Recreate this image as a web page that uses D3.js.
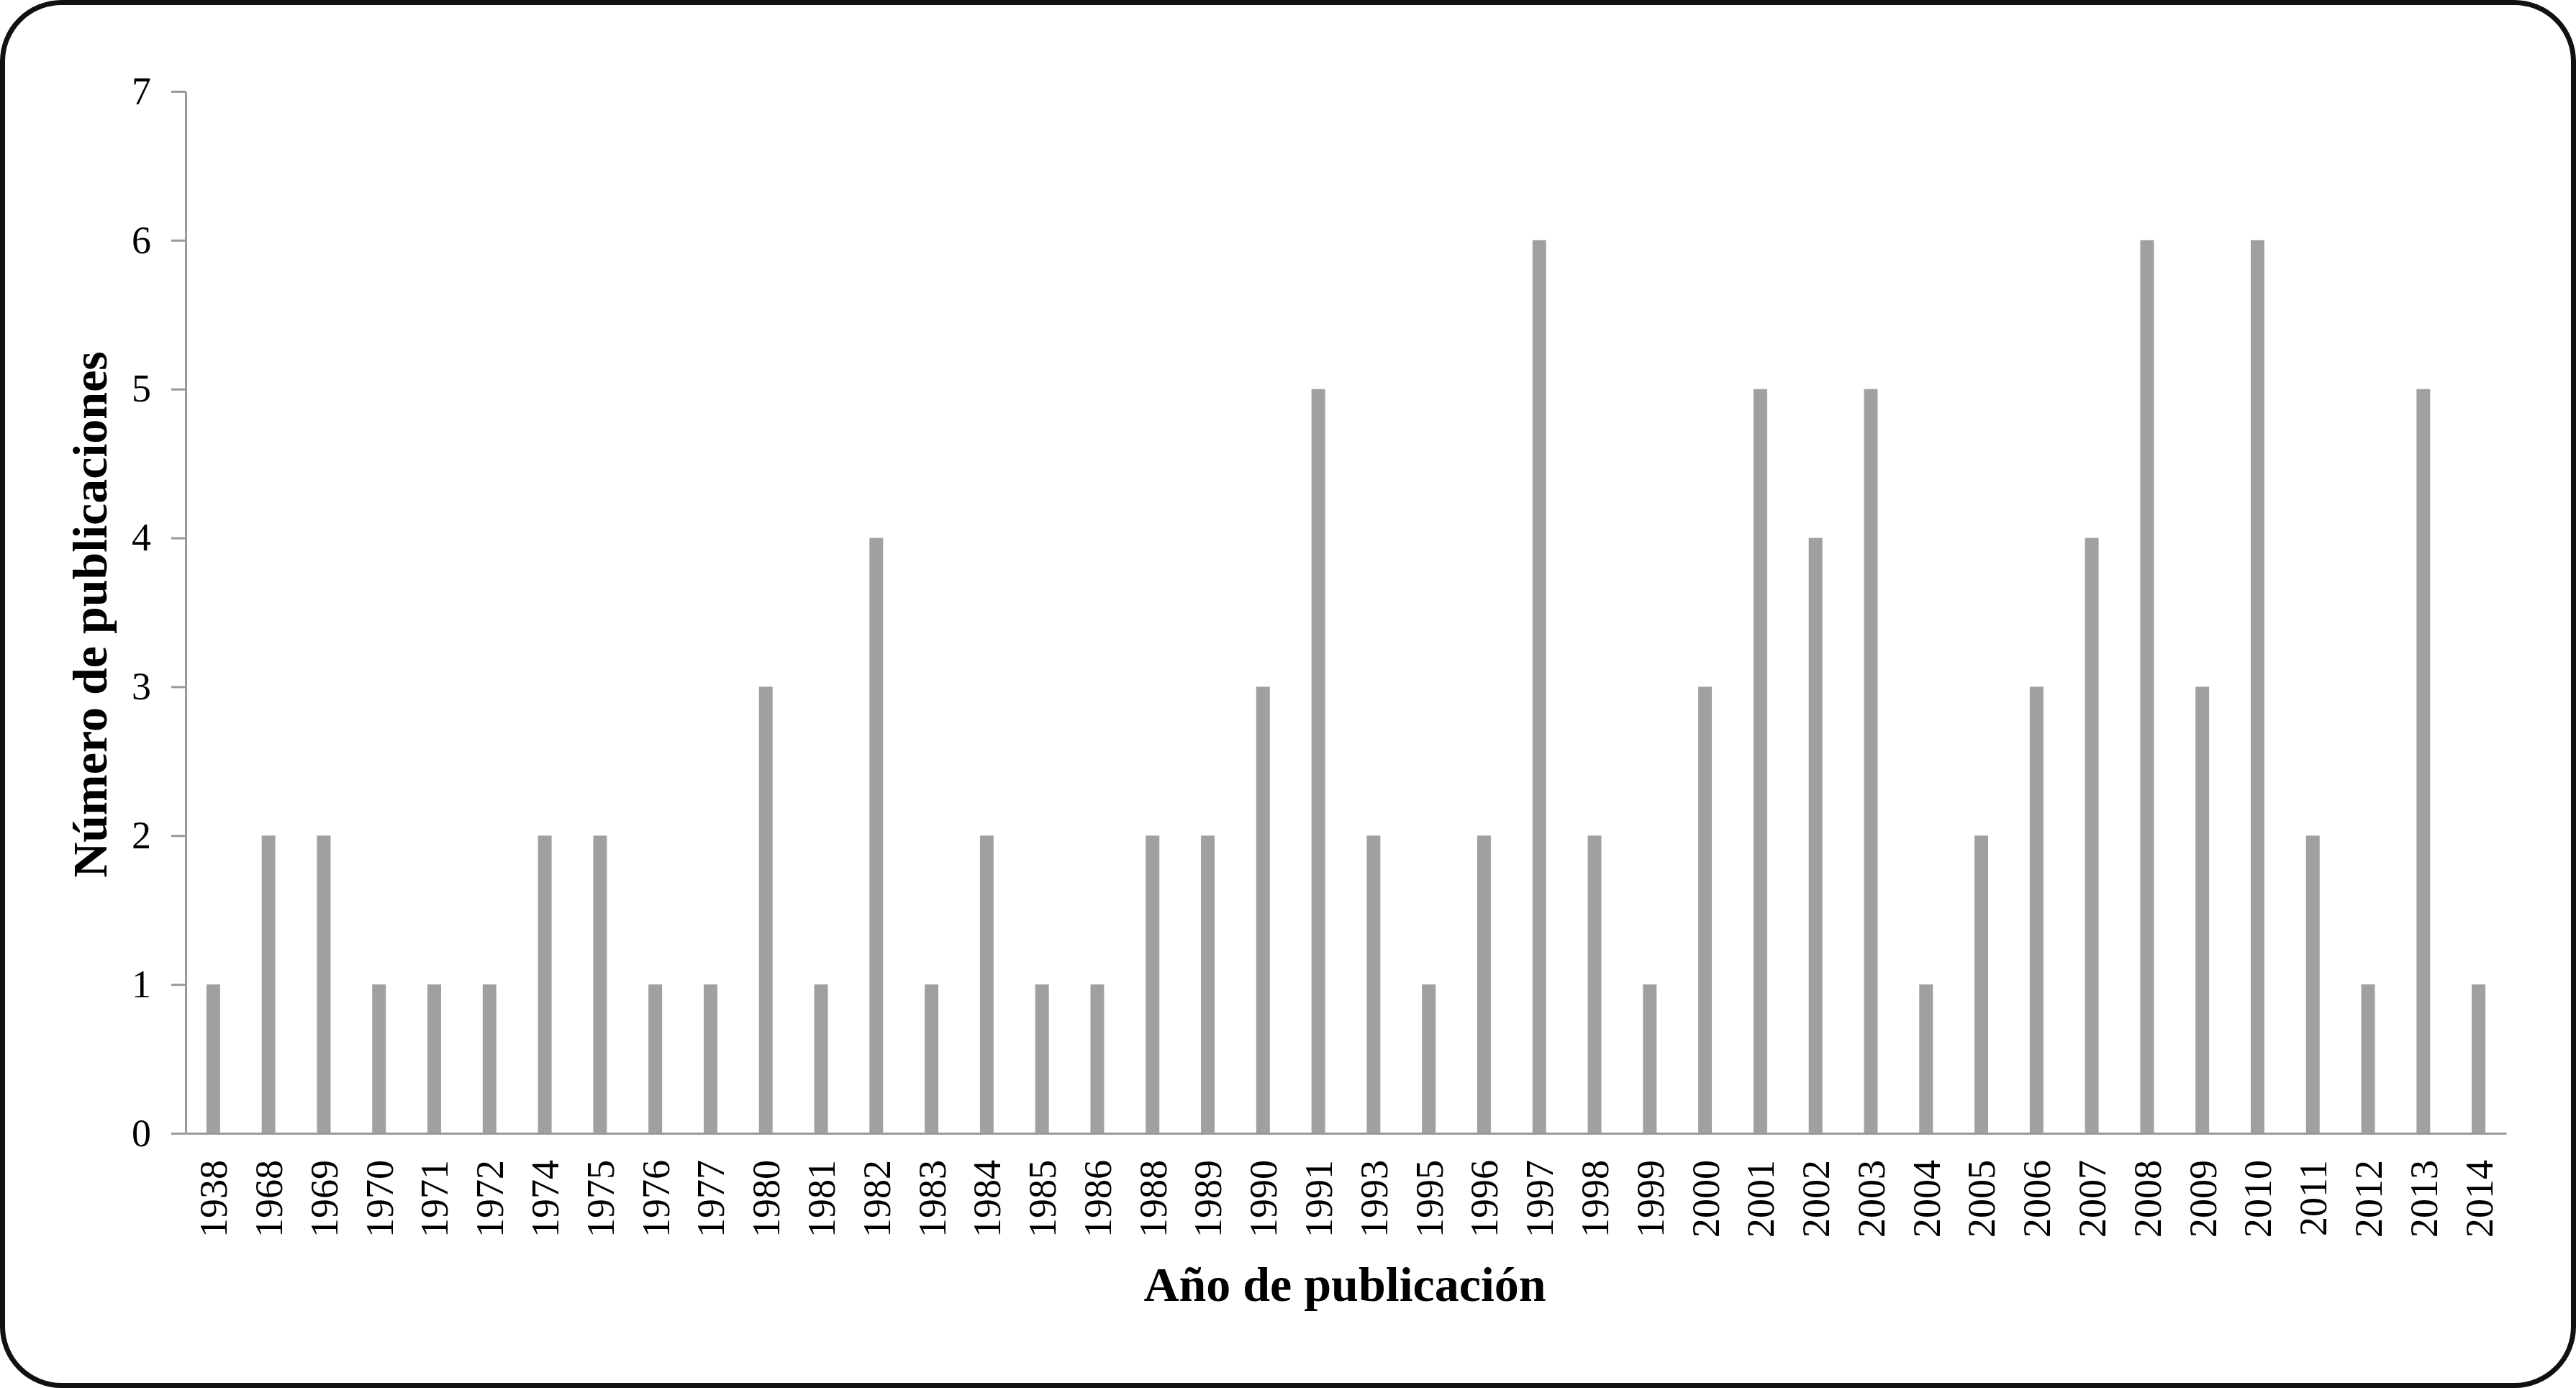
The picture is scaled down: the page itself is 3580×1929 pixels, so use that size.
<!DOCTYPE html>
<html>
<head>
<meta charset="utf-8">
<script src="https://cdn.jsdelivr.net/npm/d3@7"></script>
<style>
html,body{margin:0;padding:0;background:#fff;}
svg{display:block;}
</style>
</head>
<body>
<svg id="chart" width="3580" height="1929"></svg>
<script>
const years = ["1938","1968","1969","1970","1971","1972","1974","1975","1976","1977","1980","1981","1982","1983","1984","1985","1986","1988","1989","1990","1991","1993","1995","1996","1997","1998","1999","2000","2001","2002","2003","2004","2005","2006","2007","2008","2009","2010","2011","2012","2013","2014"];
const counts = [1,2,2,1,1,1,2,2,1,1,3,1,4,1,2,1,1,2,2,3,5,2,1,2,6,2,1,3,5,4,5,1,2,3,4,6,3,6,2,1,5,1];
const yTicks = [0,1,2,3,4,5,6,7];
const xTitle = "Año de publicación";
const yTitle = "Número de publicaciones";

(function () {
const W = 3580, H = 1929;
const pLeft = 258, pRight = 3483, pTop = 127, pBottom = 1575;
const svg = d3.select("#chart");

svg.append("rect")
  .attr("x", 3.5).attr("y", 3.5)
  .attr("width", W - 7).attr("height", H - 7)
  .attr("rx", 82).attr("ry", 82)
  .attr("fill", "#fff").attr("stroke", "#111").attr("stroke-width", 7);

const x = d3.scaleBand().domain(years).range([pLeft, pRight])
  .paddingInner(0.753).paddingOuter(0.3765);
const y = d3.scaleLinear().domain([0, 7]).range([pBottom, pTop]);

const font = "'Liberation Serif', 'Times New Roman', serif";

// bars
svg.append("g").selectAll("rect").data(years).join("rect")
  .attr("x", d => x(d))
  .attr("y", (d, i) => y(counts[i]))
  .attr("width", x.bandwidth())
  .attr("height", (d, i) => y(0) - y(counts[i]))
  .attr("fill", "#a0a0a0");

// y axis
const yAxis = svg.append("g")
  .attr("transform", `translate(${pLeft},0)`)
  .call(d3.axisLeft(y).tickValues(yTicks).tickFormat(d3.format("d")).tickSize(20).tickSizeOuter(0).tickPadding(28));
yAxis.select(".domain").attr("stroke", "#999").attr("stroke-width", 3);
yAxis.selectAll(".tick line").attr("stroke", "#999").attr("stroke-width", 3);
yAxis.selectAll(".tick text")
  .attr("font-family", font).attr("font-size", 54).attr("fill", "#000");

// x axis
const xAxis = svg.append("g")
  .attr("transform", `translate(0,${pBottom})`)
  .call(d3.axisBottom(x).tickSize(0).tickSizeOuter(0).tickPadding(0));
xAxis.select(".domain").attr("stroke", "#999").attr("stroke-width", 3);
xAxis.selectAll(".tick text")
  .attr("font-family", font).attr("font-size", 54).attr("fill", "#000")
  .attr("transform", "rotate(-90)")
  .attr("x", -37).attr("y", 0).attr("dy", "0.35em")
  .attr("text-anchor", "end");

// titles
svg.append("text")
  .attr("x", 1869).attr("y", 1808)
  .attr("text-anchor", "middle")
  .attr("font-family", font).attr("font-weight", "bold").attr("font-size", 68)
  .attr("fill", "#000")
  .text(xTitle);

svg.append("text")
  .attr("transform", "translate(148,854) rotate(-90)")
  .attr("text-anchor", "middle")
  .attr("font-family", font).attr("font-weight", "bold").attr("font-size", 68)
  .attr("fill", "#000")
  .text(yTitle);
})();
</script>
</body>
</html>
